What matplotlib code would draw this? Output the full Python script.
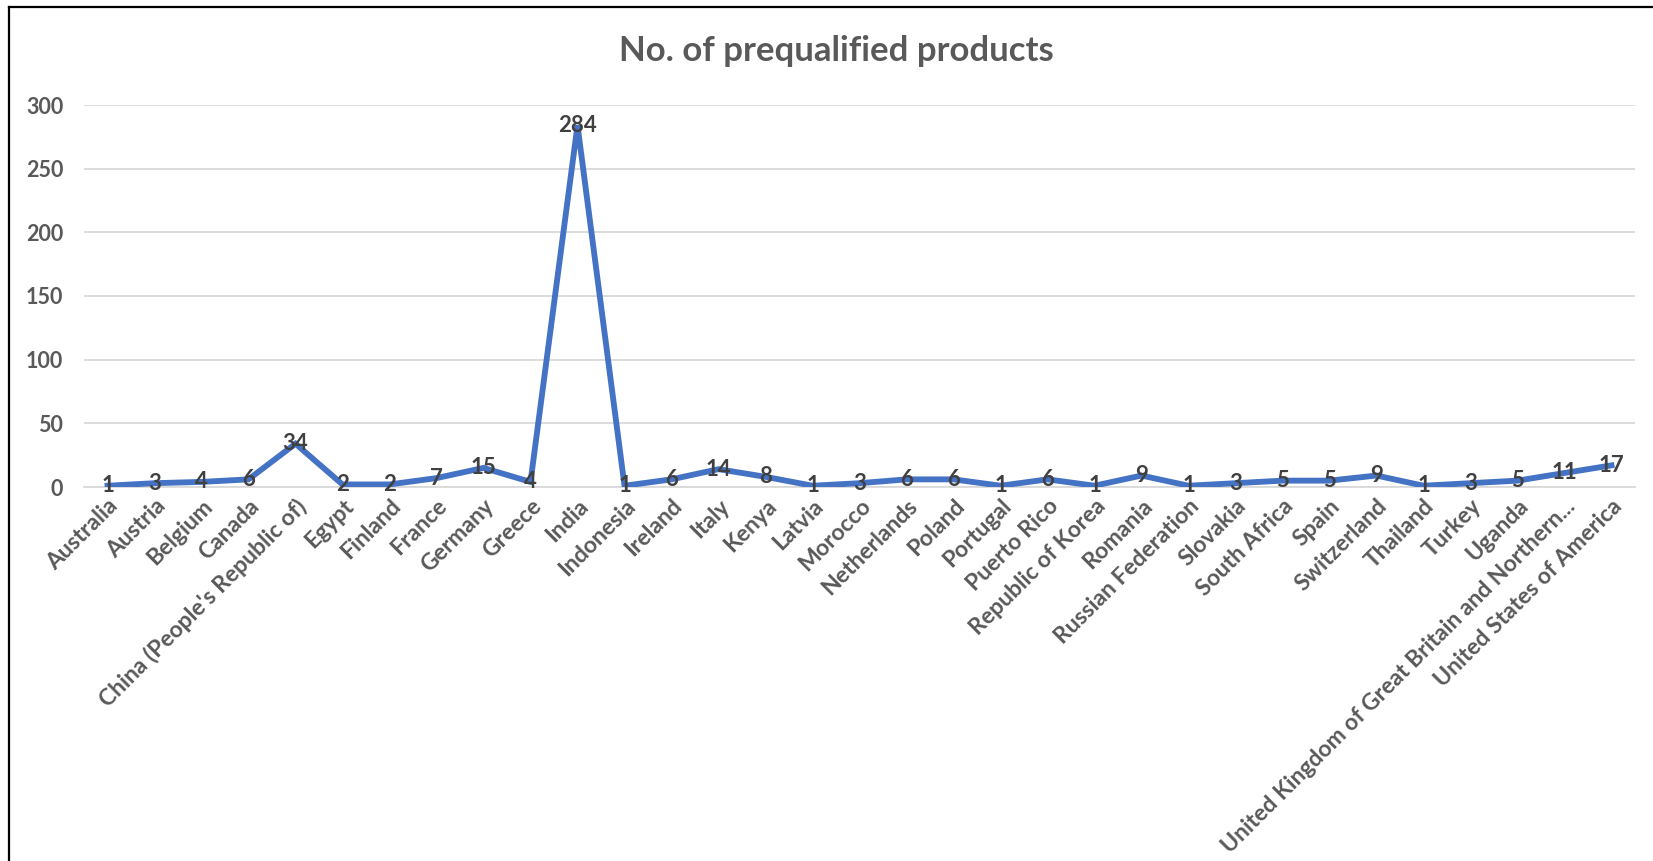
import matplotlib
matplotlib.use("Agg")
import matplotlib.pyplot as plt
from matplotlib.lines import Line2D

countries = ["Australia", "Austria", "Belgium", "Canada", "China (People's Republic of)",
             "Egypt", "Finland", "France", "Germany", "Greece", "India", "Indonesia",
             "Ireland", "Italy", "Kenya", "Latvia", "Morocco", "Netherlands", "Poland",
             "Portugal", "Puerto Rico", "Republic of Korea", "Romania", "Russian Federation",
             "Slovakia", "South Africa", "Spain", "Switzerland", "Thailand", "Turkey",
             "Uganda", "United Kingdom of Great Britain and Northern...",
             "United States of America"]
products = [1, 3, 4, 6, 34, 2, 2, 7, 15, 4, 284, 1, 6, 14, 8, 1, 3, 6, 6, 1, 6, 1, 9,
            1, 3, 5, 5, 9, 1, 3, 5, 11, 17]
yticks = [0, 50, 100, 150, 200, 250, 300]
title = "No. of prequalified products"

plt.rcParams['font.family'] = ['Lato', 'DejaVu Sans']

W, H = 1653, 861
fig = plt.figure(figsize=(W / 100, H / 100), dpi=100)
left, right, y0, y300 = 84, 1635, 487, 105
ax = fig.add_axes([left / W, 1 - y0 / H, (right - left) / W, (y0 - y300) / H])

x = list(range(len(countries)))
ax.plot(x, products, color="#4472C4", lw=4.2, solid_joinstyle="miter", zorder=3)
for xi, v in zip(x, products):
    ax.text(xi, v, str(v), ha="center", va="center", fontsize=16, fontweight="bold",
            color="#404040", zorder=4)

ax.set_xlim(-0.5, len(countries) - 0.5)
ax.set_ylim(0, 300)
ax.set_yticks(yticks)
ax.set_xticks(x)
ax.set_xticklabels(countries, rotation=45, ha="right", rotation_mode="anchor",
                   fontsize=16.5, fontweight="bold", color="#595959")
ax.tick_params(axis="y", labelsize=15.5, labelcolor="#595959", length=0, pad=15)
ax.tick_params(axis="x", length=0, pad=6)
for lab in ax.get_yticklabels():
    lab.set_fontweight("bold")
ax.grid(axis="y", color="#D9D9D9", lw=1.3)
ax.set_axisbelow(True)
for s in ["top", "right", "left"]:
    ax.spines[s].set_visible(False)
ax.spines["bottom"].set_color("#D9D9D9")
ax.spines["bottom"].set_linewidth(1.3)

fig.text(0.506, 1 - 51 / H, title, ha="center", va="center", fontsize=25,
         fontweight="bold", color="#595959")

# outer frame (left and top edges visible)
fig.add_artist(Line2D([8.5 / W, 8.5 / W], [0, 1 - 6.5 / H], color="black", lw=1.6,
                      transform=fig.transFigure))
fig.add_artist(Line2D([8.5 / W, 1], [1 - 6.5 / H, 1 - 6.5 / H], color="black", lw=1.6,
                      transform=fig.transFigure))

fig.savefig("out.png", dpi=100)
